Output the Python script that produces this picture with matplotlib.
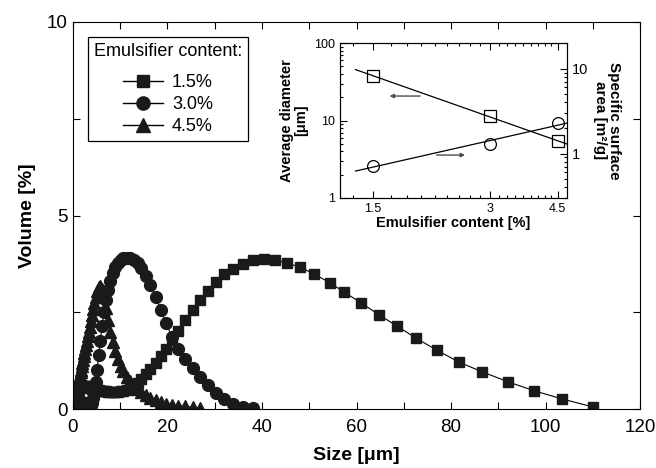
import numpy as np
import matplotlib.pyplot as plt
from matplotlib import ticker
from matplotlib.lines import Line2D

plt.rcParams['font.family'] = ['Liberation Sans', 'DejaVu Sans']
nan = np.nan

# size classes of the diffraction measurement [um]
size_bins = [0.50, 0.53, 0.57, 0.60, 0.64, 0.68, 0.72, 0.77, 0.82, 0.87,
             0.92, 0.98, 1.04, 1.11, 1.18, 1.25, 1.33, 1.42, 1.50, 1.60,
             1.70, 1.81, 1.92, 2.04, 2.17, 2.31, 2.45, 2.61, 2.77, 2.95,
             3.13, 3.33, 3.54, 3.76, 4.00, 4.25, 4.50, 4.80, 5.10, 5.50,
             5.80, 6.20, 6.60, 7.00, 7.40, 7.90, 8.40, 8.90, 9.50, 10.1,
             10.7, 11.4, 12.1, 12.9, 13.7, 14.5, 15.5, 16.4, 17.5, 18.6,
             19.7, 21.0, 22.3, 23.7, 25.4, 26.9, 28.6, 30.3, 32.0, 33.9,
             36.0, 38.1, 40.4, 42.8, 45.3, 48.0, 51.0, 54.4, 57.4, 61.0,
             64.8, 68.6, 72.6, 77.0, 81.7, 86.6, 92.1, 97.6, 103.5, 110.1]

vol_15 = [0.16, 0.19, 0.22, 0.25, 0.28, 0.31, 0.34, 0.37, 0.40, 0.42,
          0.45, 0.47, 0.49, 0.51, 0.53, 0.55, 0.56, 0.57, 0.58, 0.59,
          0.60, 0.60, 0.60, 0.60, 0.60, 0.60, 0.59, 0.59, 0.58, 0.58,
          0.57, 0.56, 0.55, 0.54, 0.53, 0.52, 0.51, 0.50, 0.49, 0.48,
          0.47, 0.47, 0.46, 0.46, 0.45, 0.45, 0.45, 0.45, 0.45, 0.46,
          0.47, 0.49, 0.53, 0.59, 0.67, 0.78, 0.90, 1.03, 1.20, 1.36,
          1.55, 1.78, 2.02, 2.30, 2.56, 2.82, 3.05, 3.28, 3.49, 3.62,
          3.75, 3.85, 3.88, 3.85, 3.77, 3.67, 3.49, 3.26, 3.02, 2.74,
          2.43, 2.14, 1.83, 1.52, 1.21, 0.96, 0.70, 0.47, 0.26, 0.05]

vol_30 = [0.08, 0.09, 0.10, 0.11, 0.12, 0.13, 0.14, 0.15, 0.16, 0.17,
          0.18, 0.19, 0.20, 0.20, 0.21, 0.21, 0.21, 0.21, 0.20, 0.20,
          0.19, 0.18, 0.17, 0.16, 0.15, 0.13, 0.12, 0.10, 0.09, 0.07,
          0.06, 0.05, 0.05, 0.07, 0.15, 0.28, 0.45, 0.70, 1.00, 1.40,
          1.75, 2.15, 2.50, 2.82, 3.08, 3.32, 3.52, 3.67, 3.78, 3.85,
          3.89, 3.90, 3.89, 3.85, 3.77, 3.64, 3.45, 3.20, 2.90, 2.56,
          2.22, 1.86, 1.56, 1.30, 1.05, 0.84, 0.62, 0.42, 0.26, 0.14,
          0.06, 0.02] + [nan] * 18

vol_45 = [0.25, 0.28, 0.30, 0.32, 0.34, 0.36, 0.38, 0.40, 0.42, 0.44,
          0.46, 0.50, 0.53, 0.57, 0.60, 0.65, 0.70, 0.76, 0.82, 0.88,
          0.95, 1.02, 1.10, 1.18, 1.27, 1.36, 1.46, 1.56, 1.66, 1.77,
          1.88, 2.00, 2.13, 2.27, 2.42, 2.58, 2.74, 2.90, 3.05, 3.15,
          3.18, 3.10, 2.90, 2.60, 2.30, 2.00, 1.72, 1.50, 1.30, 1.12,
          0.97, 0.84, 0.72, 0.61, 0.52, 0.44, 0.36, 0.29, 0.23, 0.18,
          0.14, 0.11, 0.09, 0.07, 0.05, 0.03] + [nan] * 24

series_labels = ['1.5%', '3.0%', '4.5%']
series_markers = ['s', 'o', '^']
marker_sizes = [7.5, 8.5, 9]

# inset data
emulsifier = [1.5, 3.0, 4.5]
avg_diameter = [37.5, 11.4, 5.4]        # um
surface_area = [0.72, 1.28, 2.3]        # m2/g
fit_span = [1.35, 4.75]

fig = plt.figure(figsize=(6.56, 4.68), dpi=100)
ax = fig.add_axes([0.111, 0.126, 0.865, 0.827])

for vals, mk, ms in zip([vol_15, vol_30, vol_45], series_markers, marker_sizes):
    ax.plot(size_bins, vals, color='k', lw=0.8, marker=mk, ms=ms,
            mfc='#1a1a1a', mec='#1a1a1a')

ax.set_xlim(0, 120)
ax.set_ylim(0, 10)
ax.set_xticks(range(0, 121, 20))
ax.set_xticks(range(0, 121, 10), minor=True)
ax.set_yticks([0, 5, 10])
ax.set_yticks([2.5, 7.5], minor=True)
ax.tick_params(which='both', direction='in', top=True, right=True,
               length=5, width=0.8, labelsize=13.5)
ax.tick_params(axis='x', pad=7)
ax.set_xlabel('Size [μm]', fontsize=14, fontweight='bold', labelpad=8)
ax.set_ylabel('Volume [%]', fontsize=14, fontweight='bold', labelpad=8)

handles = [Line2D([], [], color='k', lw=1, marker=m, ms=s + 1,
                  mfc='#1a1a1a', mec='#1a1a1a')
           for m, s in zip(series_markers, marker_sizes)]
leg = ax.legend(handles, series_labels, title='Emulsifier content:',
                loc='upper left', bbox_to_anchor=(0.026, 0.961),
                borderaxespad=0, fontsize=13, title_fontsize=13,
                handlelength=2.2, labelspacing=0.27, handletextpad=0.5,
                borderpad=0.35, fancybox=False, edgecolor='k', framealpha=1)
leg.get_frame().set_linewidth(0.9)
leg._legend_box.sep = 10  # a bit more room under the title

# inset
ax_in = fig.add_axes([0.518, 0.577, 0.346, 0.331])
ax_in.set_xscale('log')
ax_in.set_yscale('log')
ax_in.set_xlim(1.23, 4.75)
ax_in.set_ylim(1, 100)
ax_in.plot(emulsifier, avg_diameter, ls='none', marker='s', ms=8,
           mfc='white', mec='k', mew=0.9)
k1, b1 = np.polyfit(np.log10(emulsifier), np.log10(avg_diameter), 1)
xf = np.array(fit_span)
ax_in.plot(xf, 10 ** (b1 + k1 * np.log10(xf)), color='k', lw=0.9)

ax_in.set_xticks(emulsifier)
ax_in.xaxis.set_major_formatter(ticker.FixedFormatter(['1.5', '3', '4.5']))
ax_in.xaxis.set_minor_locator(ticker.FixedLocator(np.arange(4 / 3, 4.6, 1 / 6)))
ax_in.xaxis.set_minor_formatter(ticker.NullFormatter())
ax_in.yaxis.set_major_formatter(ticker.FuncFormatter(lambda v, _: f'{v:g}'))
ax_in.tick_params(which='both', direction='in', top=True, labelsize=9,
                  width=0.8)
ax_in.tick_params(which='major', length=5)
ax_in.tick_params(which='minor', length=2.5)
ax_in.set_xlabel('Emulsifier content [%]', fontsize=10.5, fontweight='bold',
                 labelpad=1)
ax_in.set_ylabel('Average diameter\n[μm]', fontsize=10.5, fontweight='bold',
                 labelpad=4, linespacing=1.0)

ax_r = ax_in.twinx()
ax_r.set_yscale('log')
ax_r.set_ylim(0.3, 20)
ax_r.plot(emulsifier, surface_area, ls='none', marker='o', ms=8.5,
          mfc='white', mec='k', mew=0.9)
k2, b2 = np.polyfit(np.log10(emulsifier), np.log10(surface_area), 1)
ax_r.plot(xf, 10 ** (b2 + k2 * np.log10(xf)), color='k', lw=0.9)
ax_r.set_yticks([1, 10])
ax_r.yaxis.set_major_formatter(ticker.FuncFormatter(lambda v, _: f'{v:g}'))
ax_r.tick_params(which='both', direction='in', labelsize=10.5, width=0.8)
ax_r.tick_params(which='major', length=5)
ax_r.tick_params(which='minor', length=2.5)
ax_r.set_ylabel('Specific surface\narea [m²/g]', fontsize=11,
                fontweight='bold', rotation=270, labelpad=24, linespacing=1.0)

arrow = dict(arrowstyle='-|>', color='0.3', lw=1, mutation_scale=6)
ax_in.annotate('', xy=(0.207, 0.658), xytext=(0.366, 0.658),
               xycoords='axes fraction', arrowprops=arrow)
ax_in.annotate('', xy=(0.564, 0.277), xytext=(0.414, 0.277),
               xycoords='axes fraction', arrowprops=arrow)

fig.savefig('out.png', dpi=100)
